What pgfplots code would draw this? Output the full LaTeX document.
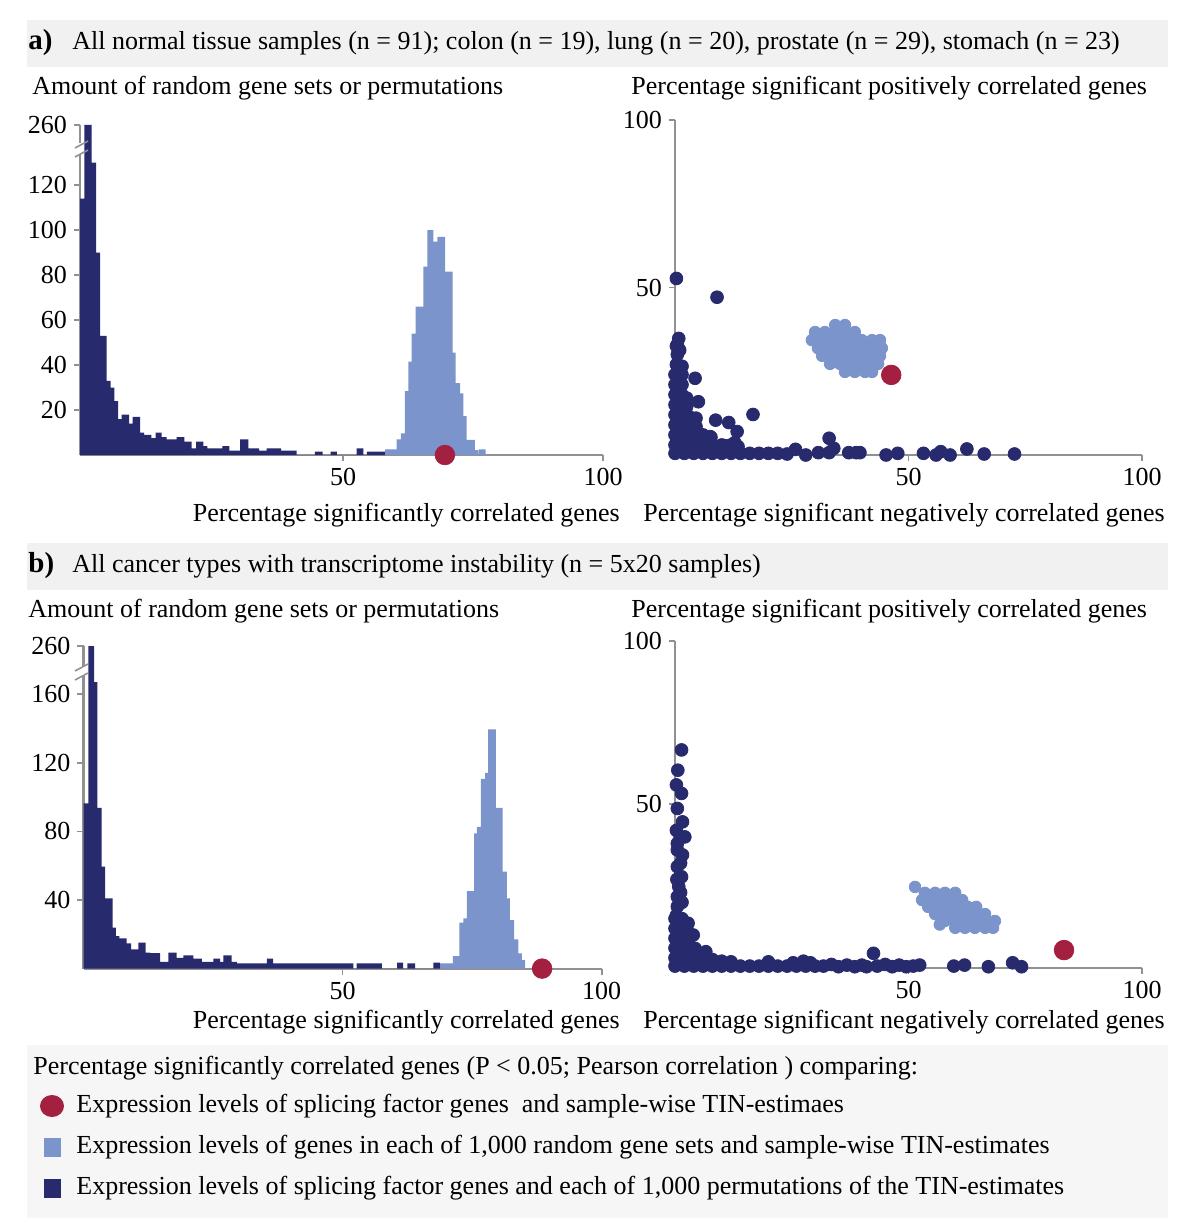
\documentclass[border=0pt]{standalone}
\usepackage{fontspec}
\setmainfont{Liberation Serif}
\usepackage{pgfplots}
\pgfplotsset{compat=1.18}
\definecolor{navy}{RGB}{40,42,110}
\definecolor{lblue}{RGB}{123,148,204}
\definecolor{crimson}{RGB}{164,32,64}
\definecolor{axgray}{RGB}{145,145,145}
\newcommand\F{\fontsize{13}{15}\selectfont}
\pgfplotsset{
  base/.style={scale only axis, anchor=south west, axis lines=left,
    axis line style={-, draw=axgray, line width=1.1pt},
    tick style={draw=axgray, line width=0.8pt}, major tick length=3pt, tick align=outside,
    ticklabel style={font=\F, text=black}, /pgf/number format/assume math mode=true,
    xticklabel style={inner sep=0.5pt, yshift=-3pt}, clip=false, enlargelimits=false},
  dark/.style={only marks, mark=*, mark size=3.2pt, color=navy},
  light/.style={only marks, mark=*, mark size=2.9pt, color=lblue},
  red/.style={only marks, mark=*, mark size=4.9pt, color=crimson},
}
\begin{document}
\begin{tikzpicture}
\useasboundingbox (0,0) rectangle (600pt,-615pt);
\begin{scope}[x=0.5pt,y=-0.5pt]
\fill[gray!11] (27,20) rectangle (1168,67);
\fill[gray!11] (27,543) rectangle (1168,590);
\fill[gray!7] (27,1045) rectangle (1168,1218);
\end{scope}

% ---------- a) histogram ----------
\begin{axis}[base, at={(39.95pt,-227.5pt)}, width=261.55pt, height=165pt,
  xmin=-0.6, xmax=100, ymin=0, ymax=146.7, xtick={50,100},
  ytick={20,40,60,80,100,120,146.7}, yticklabels={20,40,60,80,100,120,260},
  restrict y to domain*=0:146.7]
\addplot[const plot, fill=navy, draw=none] coordinates {
(-0.58,114) (0.26,260) (1.67,130) (2.5,90) (3.27,53) (4.55,33) (5.32,30) (6.03,24)
(6.73,16) (7.44,18) (8.85,14) (9.55,17) (10.96,10) (11.73,9) (13.14,7.5) (13.97,10)
(15.13,8) (16.09,7) (18.01,8) (19.49,6) (20.9,3) (21.73,6) (23.14,4) (23.91,3)
(26.79,4) (28.14,2) (30.19,7) (31.79,3) (33.85,2) (35.32,3) (38.08,2) (41.09,0)
(44.6,1.5) (46.1,0) (47.6,1.5) (48.8,0) (52.6,3) (53.9,0) (54.6,1.5) (56.8,1.5) (58.1,0)
} \closedcycle;
\addplot[const plot, fill=lblue, draw=none] coordinates {
(58.08,2.5) (60.32,7) (61.15,9.6) (61.92,28.4) (62.56,41.5) (63.21,54) (63.97,66)
(65.45,83.7) (66.22,100) (67.37,94.8) (68.14,97) (69.62,81.5) (71.09,45.5) (71.67,31.9)
(72.5,27.4) (73.14,17.3) (73.78,6.7) (75.38,2.2) (76.03,0) (76.15,2.5) (77.44,0)
} \closedcycle;
\addplot[red] coordinates {(69.6,0)};
\end{axis}

% ---------- a) scatter ----------
\begin{axis}[base, at={(337.5pt,-227.5pt)}, width=233.5pt, height=167.5pt,
  xmin=0, xmax=100, ymin=0, ymax=100, xtick={50,100}, ytick={50,100}]
\addplot[dark] coordinates {
(0,0.5)(2,0.5)(4,0.5)(6,0.5)(8,0.5)(10,0.5)(12,0.5)(14,0.5)(16,0.5)(18,0.5)(20,0.5)(22,0.5)(24,0.3)
(0,3)(2,3)(4,3)(6,3)(8,3)(10,3)(12,3)(13.5,2.5)
(0,6)(2,6)(4,6)(6,6)(7.5,5.5)
(0,9)(1.5,9)(3,9)(4.5,8.5)
(0,12)(1.5,12)(3,11.5)(4.5,11)
(0,15)(1.5,15)(2.5,14.5)
(0,18)(1.5,18)(2.5,17)
(0,21)(1.5,21)(0,24)(1.5,24)(0.3,27)(1.5,26.5)(0.5,30)(0.3,32.5)(1,31.3)(0.8,34.8)(0.5,33)
(0.3,52.7)(9,47.1)(4.3,22.9)(5,15.9)(8.7,10.4)(11.5,9.7)(16.7,12.1)(13.3,7)(7.7,5.3)
(10.6,2.8)(12.8,3.7)(33,5)(25.8,1.7)(28,0)(30.7,0.7)(33,0.7)(34,2)(37.2,0.7)(38.8,0.7)(39.6,0.7)
(45.2,0)(47.7,0.5)(53.2,0.5)(55.9,0)(56.9,1)(58.9,0)(62.5,1.8)(66.2,0.3)(72.7,0.3)
};
\addplot[light] coordinates {
(34.3,38.8)(36.4,38.8)
(30,36.7)(32.1,36.7)(34.3,36.7)(36.4,36.7)(38.5,36.7)
(29.3,34.3)(31.5,34.3)(33.6,34.3)(35.8,34.3)(37.9,34.3)(40,34.3)(42.2,34.3)(43.9,34.3)
(30.6,31.9)(32.7,31.9)(34.9,31.9)(37,31.9)(39.2,31.9)(41.3,31.9)(43.5,31.9)(44.3,31.9)
(31.5,29.6)(33.6,29.6)(35.8,29.6)(37.9,29.6)(40,29.6)(42.2,29.6)(43.9,29.6)
(33.2,27.2)(35.3,27.2)(37.5,27.2)(39.6,27.2)(41.8,27.2)(43.5,27.2)
(36.4,24.8)(38.5,24.8)(40.7,24.8)(42.2,24.8)
};
\addplot[red] coordinates {(46.3,23.9)};
\end{axis}

% ---------- b) histogram ----------
\begin{axis}[base, at={(41.75pt,-484.3pt)}, width=259.1pt, height=161.2pt,
  xmin=0, xmax=100, ymin=0, ymax=188, xtick={50,100},
  ytick={40,80,120,160,188}, yticklabels={40,80,120,160,260},
  restrict y to domain*=0:188]
\addplot[const plot, fill=navy, draw=none] coordinates {
(0,96.4) (0.93,260) (2.03,167) (2.66,93.8) (3.51,59.4) (4.15,41) (5.64,23.9) (6.27,19)
(6.92,17.7) (8.34,14.7) (9.17,11.2) (10.59,15.1) (12,9.3) (12.84,9) (14.77,4) (16.38,9.3)
(17.99,6.2) (19.27,7.7) (21.2,5.8) (22.82,3.9) (25.06,5.8) (26.35,3.9) (27,7.7) (28.6,4)
(29.6,3) (35.4,5.8) (36.6,3) (52.1,0) (52.7,3) (57.6,0) (60.5,3.5) (61.7,0) (62.5,3)
(64,0) (67.5,3.5) (68.8,0)
} \closedcycle;
\addplot[const plot, fill=lblue, draw=none] coordinates {
(68.8,3.1) (71.3,7.3) (72.55,26.8) (73.3,29.3) (74,45.2) (75.4,78.9) (75.9,82.7)
(76.7,110.6) (77.5,114.2) (78.1,139.5) (79.6,93.8) (80.9,56.5) (81.7,41) (82.3,28.3)
(83.1,17.1) (83.9,8.9) (84.6,5) (85.2,0)
} \closedcycle;
\addplot[red] coordinates {(88.5,0)};
\end{axis}

% ---------- b) scatter ----------
\begin{axis}[base, at={(337.5pt,-483.85pt)}, width=233.5pt, height=163.5pt,
  xmin=0, xmax=100, ymin=0, ymax=100, xtick={50,100}, ytick={50,100}]
\addplot[dark] coordinates {
(1.4,66.6)(0.6,60.4)(0.3,55.9)(1.4,53.3)(0.5,48.7)(1.6,44.6)(0.3,42)(1.1,40.1)(2.1,40)
(0.5,38)(0.5,36)(1.6,34.5)(1.2,32)(0.5,30.9)(1.4,27.8)(0.4,27)(0.8,24.8)(1.2,23)
(0.5,21.7)(1.5,20)(0.5,18.7)(0.3,16)
(0,0.5)(2,0.5)(4,0.5)(6,0.5)(8,0.5)(10,0.5)(12,0.5)(14,0.5)(16,0.5)(18,0.5)(20,0.5)
(22,0.5)(24,0.5)(26,0.5)(28,0.5)(30,0.5)
(0,3)(1.5,3)(3,3)(4.5,3)(6,3)(8,2.5)(10,2)(12,1.8)
(0,6)(1.5,6)(3,6)(4.3,5.9)(0,9)(1.5,9)(3,9)(0,12)(1.5,12)(2.5,12)(0,15)(1.5,15)
(2.8,13.6)(3.9,10)(6.6,4.9)
(20,1.8)(25.3,1.5)(27.5,2)(29,1.5)(31.8,0.5)(33.5,1)(35,0.3)(36.8,0.8)(38.5,0.3)(40,0.8)
(41,0.3)(42.5,4.4)(43.3,0.5)(45,1)(46.5,0.3)(48,0.8)(49.5,0.3)(51,0.5)(52.4,0.8)
(59.7,0.5)(62,0.8)(67.1,0.3)(72.3,1.5)(74.2,0.3)
};
\addplot[light] coordinates {
(51.4,24.7)
(53.5,22.9)(55.7,22.9)(57.8,22.9)(60,22.9)
(52.9,20.7)(55,20.7)(57.2,20.7)(59.3,20.7)(61.5,20.7)
(54.2,18.6)(56.3,18.6)(58.5,18.6)(60.6,18.6)(62.7,18.6)(64.5,18.6)
(55.7,16.4)(57.8,16.4)(60,16.4)(62.1,16.4)(64.2,16.4)(66.4,16.4)
(57.8,14.3)(60,14.3)(62.1,14.3)(64.2,14.3)(66.4,14.3)(68.5,14.3)
(56.7,13.2)(60,12.2)(62.1,12.2)(64.2,12.2)(66.4,12.2)(68.1,12.2)
};
\addplot[red] coordinates {(83.3,5.4)};
\end{axis}

\begin{scope}[x=0.5pt,y=-0.5pt, every node/.style={inner sep=0pt, font=\F}]
% axis breaks
\fill[white] (76,143) rectangle (84,154);
\draw[axgray, line width=0.8pt] (75,148)--(88,141) (75,157)--(88,150);
\fill[white] (77,666) rectangle (87,676);
\draw[axgray, line width=0.8pt] (75,671)--(88,664) (75,680)--(88,673);
% texts
\node[anchor=west, font=\fontsize{14.5}{16}\selectfont\bfseries] at (28,43) {a)};
\node[anchor=west] at (72,43) {All normal tissue samples (n = 91); colon (n = 19), lung (n = 20), prostate (n = 29), stomach (n = 23)};
\node[anchor=west] at (32,88) {Amount of random gene sets or permutations};
\node[anchor=west] at (631,88) {Percentage significant positively correlated genes};
\node[anchor=east] at (620,515) {Percentage significantly correlated genes};
\node[anchor=east] at (1165,515) {Percentage significant negatively correlated genes};
\node[anchor=west, font=\fontsize{14.5}{16}\selectfont\bfseries] at (28,566) {b)};
\node[anchor=west] at (72,566) {All cancer types with transcriptome instability (n = 5x20 samples)};
\node[anchor=west] at (28,611) {Amount of random gene sets or permutations};
\node[anchor=west] at (631,611) {Percentage significant positively correlated genes};
\node[anchor=east] at (620,1022) {Percentage significantly correlated genes};
\node[anchor=east] at (1165,1022) {Percentage significant negatively correlated genes};
% legend
\node[anchor=west] at (33,1068) {Percentage significantly correlated genes (P < 0.05; Pearson correlation ) comparing:};
\fill[crimson] (52,1106) ellipse [x radius=6pt, y radius=5.5pt];
\fill[lblue] (44,1138) rectangle (61,1157);
\fill[navy] (44,1179) rectangle (61,1198);
\node[anchor=west] at (76,1106) {Expression levels of splicing factor genes\ \ and sample-wise TIN-estimaes};
\node[anchor=west] at (76,1147) {Expression levels of genes in each of 1,000 random gene sets and sample-wise TIN-estimates};
\node[anchor=west] at (76,1188) {Expression levels of splicing factor genes and each of 1,000 permutations of the TIN-estimates};
\end{scope}
\end{tikzpicture}
\end{document}
